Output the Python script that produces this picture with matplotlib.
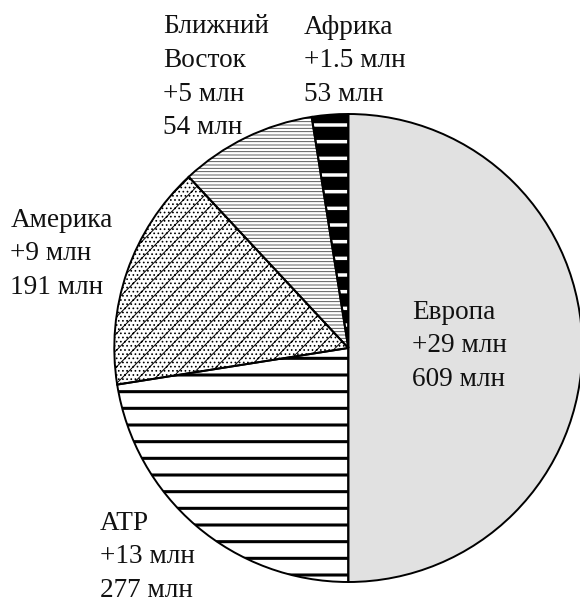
"""Pie chart: population by region (reference recreation)."""

import matplotlib

matplotlib.use("Agg")

import matplotlib.pyplot as plt


# region labels, growth and totals (as printed on the chart)
REGIONS = ["Европа", "АТР", "Америка", "Ближний\nВосток", "Африка"]
GROWTH = ["+29 млн", "+13 млн", "+9 млн", "+5 млн", "+1.5 млн"]
TOTALS = ["609 млн", "277 млн", "191 млн", "54 млн", "53 млн"]
# slice sizes as drawn in the picture (degrees)
SLICE_DEG = [180, 81, 56, 34, 9]

FILLS = ["#e1e1e1", "white", "white", "white", "black"]
HATCHES = [None, "-", "....//", "-----", "-"]
HATCH_COLORS = ["black", "black", "black", "#444444", "white"]
HATCH_LW = [1.0, 2.2, 0.7, 0.6, 2.5]

W, H = 580, 604
CX, CY, R = 348.3, 348, 234


def main() -> None:
    plt.rcParams["font.family"] = ["Liberation Serif", "DejaVu Serif"]
    fig = plt.figure(figsize=(W / 100, H / 100), dpi=100)
    ax = fig.add_axes([(CX - R) / W, (H - CY - R) / H, 2 * R / W, 2 * R / H])

    # filled / hatched wedges; hatch colour follows edgecolor
    wedges, _ = ax.pie(SLICE_DEG, startangle=90, counterclock=False, radius=1,
                       wedgeprops={"linewidth": 0})
    for w, fc, h, hc, hlw in zip(wedges, FILLS, HATCHES, HATCH_COLORS, HATCH_LW):
        w.set_facecolor(fc)
        w.set_edgecolor(hc)
        if h:
            w.set_hatch(h)
            if hasattr(w, "set_hatch_linewidth"):
                w.set_hatch_linewidth(hlw)

    # black outlines on top
    ax.pie(SLICE_DEG, startangle=90, counterclock=False, radius=1,
           wedgeprops={"facecolor": "none", "edgecolor": "black", "linewidth": 1.4})
    ax.set_xlim(-1, 1)
    ax.set_ylim(-1, 1)
    ax.set_aspect("equal")
    ax.axis("off")

    # labels (pixel positions of last baseline)
    label_pos = [(412.5, 386), (100, 597), (10.5, 294), (163.3, 134.3), (304, 101)]
    for name, g, t, (px, py) in zip(REGIONS, GROWTH, TOTALS, label_pos):
        fig.text(px / W, 1 - py / H, f"{name}\n{g}\n{t}", fontsize=19.6,
                 ha="left", va="baseline", linespacing=1.46, color="#111111")

    fig.savefig("out.png", dpi=100, facecolor="white")
    plt.close(fig)


if __name__ == "__main__":
    main()
